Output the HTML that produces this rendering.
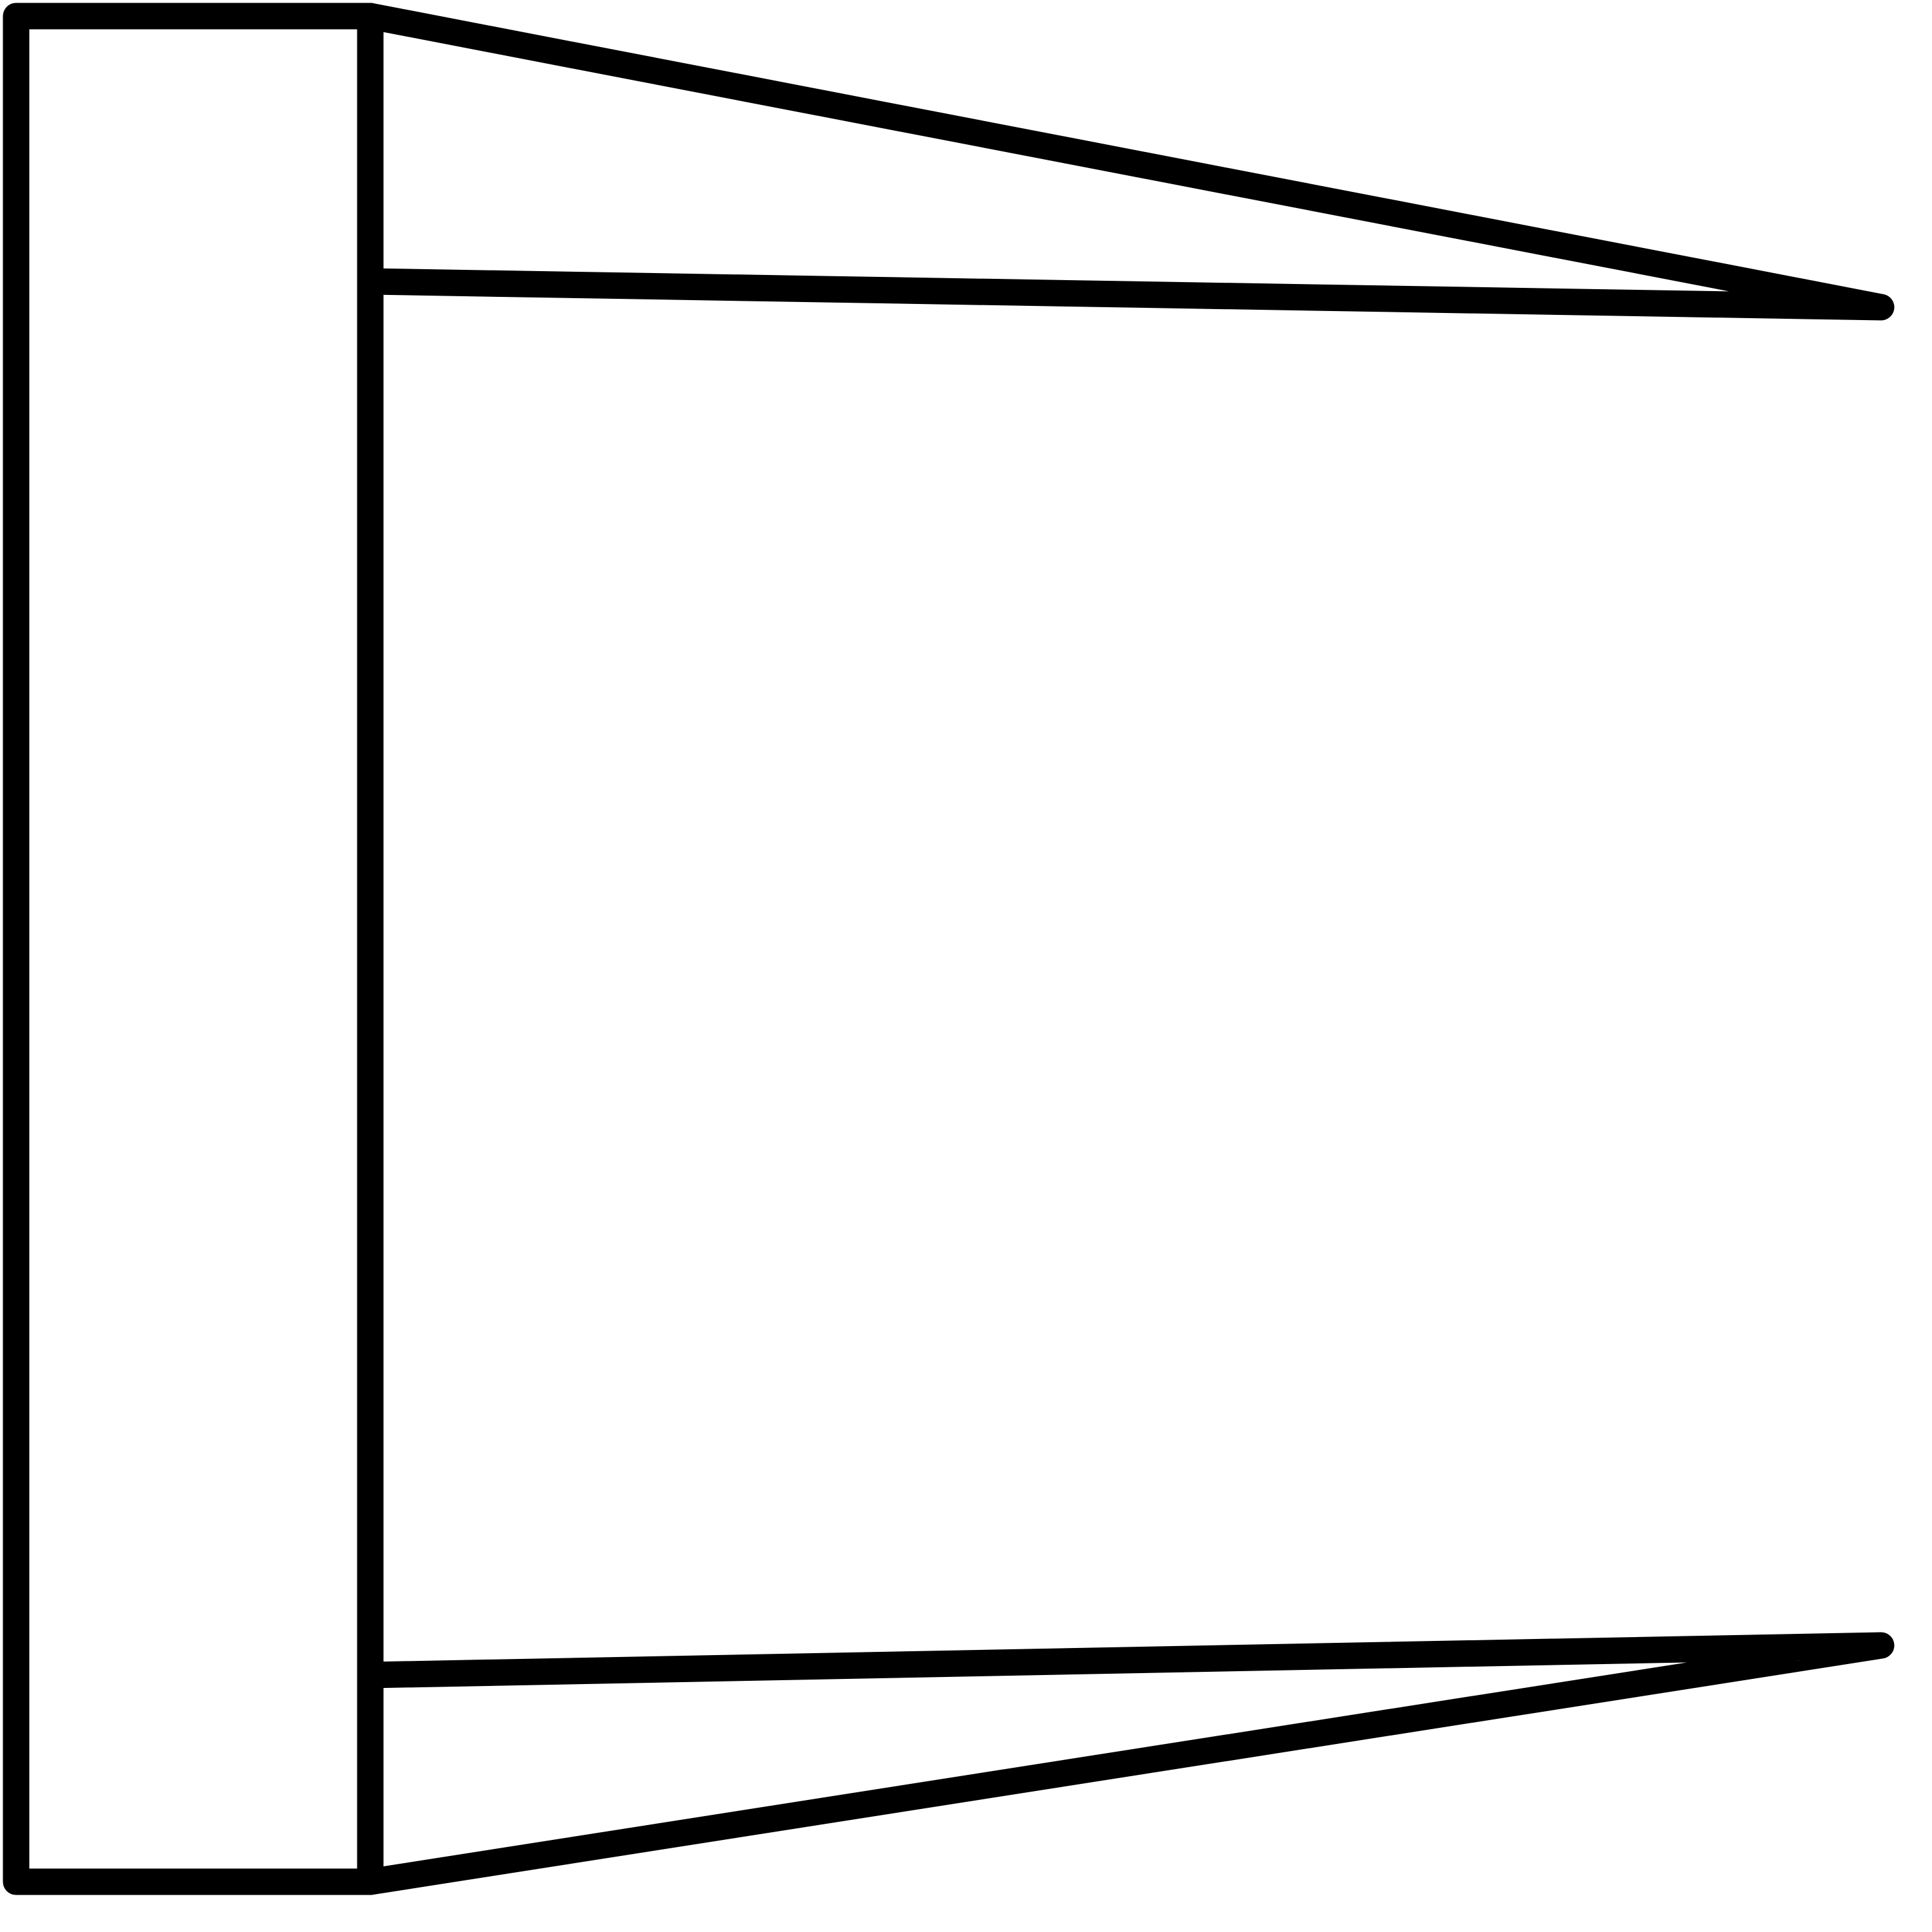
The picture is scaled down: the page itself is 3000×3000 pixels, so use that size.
<!DOCTYPE html>
<html><head><meta charset="utf-8"><style>html,body{margin:0;padding:0;background:#fff}svg{display:block}</style></head>
<body>
<svg id="s" width="3000" height="3000" viewBox="0 0 3000 3000" xmlns="http://www.w3.org/2000/svg">
<rect x="0" y="0" width="3000" height="3000" fill="#fff"/>
</svg>
<script>
const rectX = [25, 575];
const rectY = [25, 2922];
const upperWedge = [[575,25],[2921,477],[575,437]];
const lowerWedge = [[575,2601],[2921,2555],[575,2922]];
const NS = 'http://www.w3.org/2000/svg';
const svg = document.getElementById('s');
function poly(pts, name, closed) {
  const p = document.createElementNS(NS, closed ? 'polygon' : 'polyline');
  p.setAttribute('points', pts.map(q => q.join(',')).join(' '));
  p.setAttribute('fill', 'none');
  p.setAttribute('stroke', '#000');
  p.setAttribute('stroke-width', '41');
  p.setAttribute('stroke-linejoin', 'round');
  p.setAttribute('stroke-linecap', 'round');
  
  
  svg.appendChild(p);
}
poly([[rectX[0],rectY[0]],[rectX[1],rectY[0]],[rectX[1],rectY[1]],[rectX[0],rectY[1]]], 'left-panel', true);
poly(upperWedge, 'upper-wedge', false);
poly(lowerWedge, 'lower-wedge', false);
</script>
</body></html>
